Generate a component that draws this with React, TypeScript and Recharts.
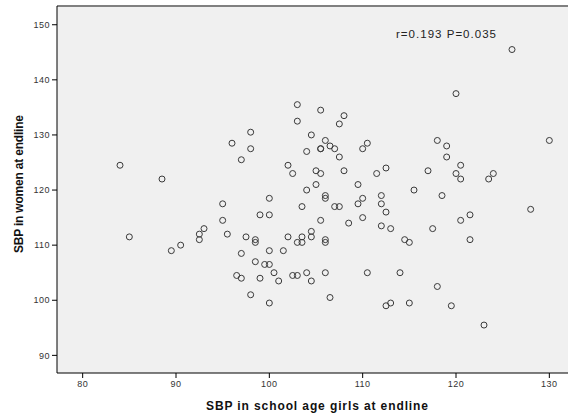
import React from "react";
import { ScatterChart, Scatter, XAxis, YAxis, CartesianGrid, ReferenceLine } from "recharts";

// SBP of school-age girls (x) against SBP of women (y), both at endline
const girlsSbp = [
  84, 88.5, 85, 89.5, 90.5, 92.5, 92.5, 93, 98, 104.5, 106, 96, 110.5, 106.5, 105.5, 105.5,
  107, 98, 110, 104, 107.5, 97, 102, 112.5, 105, 108, 102.5, 105.5, 111.5, 105, 109.5, 104,
  112, 106, 106, 100, 110, 95, 109.5, 112, 103.5, 107, 107.5, 112.5, 99, 100, 110, 95,
  105.5, 108.5, 112, 95.5, 104.5, 97.5, 102, 103.5, 104.5, 98.5, 98.5, 106, 106, 103,
  103.5, 100, 101.5, 97, 98.5, 99.5, 100, 118, 130, 119, 119, 120.5, 117, 120, 124,
  120.5, 123.5, 115.5, 118.5, 128, 121.5, 120.5, 113, 117.5, 114.5, 115, 121.5, 103,
  105.5, 108, 103, 107.5, 126, 120, 96.5, 97, 99, 100.5, 101, 102.5, 103, 104, 104.5,
  106, 110.5, 98, 100, 106.5, 112.5, 113, 114, 118, 115, 119.5, 123,
];
const womenSbp = [
  124.5, 122, 111.5, 109, 110, 112, 111, 113, 130.5, 130, 129, 128.5, 128.5, 128, 127.5, 127.5,
  127.5, 127.5, 127.5, 127, 126, 125.5, 124.5, 124, 123.5, 123.5, 123, 123, 123, 121, 121, 120,
  119, 119, 118.5, 118.5, 118.5, 117.5, 117.5, 117.5, 117, 117, 117, 116, 115.5, 115.5, 115, 114.5,
  114.5, 114, 113.5, 112, 112.5, 111.5, 111.5, 111.5, 111.5, 111, 110.5, 111, 110.5, 110.5,
  110.5, 109, 109, 108.5, 107, 106.5, 106.5, 129, 129, 128, 126, 124.5, 123.5, 123, 123,
  122, 122, 120, 119, 116.5, 115.5, 114.5, 113, 113, 111, 110.5, 111, 135.5,
  134.5, 133.5, 132.5, 132, 145.5, 137.5, 104.5, 104, 104, 105, 103.5, 104.5, 104.5, 105, 103.5,
  105, 105, 101, 99.5, 100.5, 99, 99.5, 105, 102.5, 99.5, 99, 95.5,
];
const xTicks = [80, 90, 100, 110, 120, 130];
const yTicks = [90, 100, 110, 120, 130, 140, 150];
const xDomain = [77.25, 132];
const yDomain = [86.8, 153.4];

const xTitle = "SBP in school age girls at endline";
const yTitle = "SBP in women at endline";
const statText = "r=0.193 P=0.035";

const points = girlsSbp.map((g, i) => ({ girls: g, women: womenSbp[i] }));

const font = "'Liberation Sans', Arial, sans-serif";
const tickStyle = { fontSize: 9, fill: "#333", fontFamily: font, letterSpacing: 0.5 };

const OpenCircle = (props: any) => (
  <circle cx={props.cx} cy={props.cy} r={3} fill="none" stroke="#3a3a3a" strokeWidth={1} />
);

export default function App() {
  return (
    <div style={{ position: "absolute", left: 0, top: 0, width: 569, height: 415, background: "#fff" }}>
      <ScatterChart width={569} height={415} margin={{ top: 6, right: 1, bottom: 0, left: 0 }}>
        <CartesianGrid fill="#f0f0f0" horizontal={false} vertical={false} />
        <XAxis
          type="number"
          dataKey="girls"
          domain={xDomain}
          ticks={xTicks}
          allowDataOverflow
          height={42}
          tickSize={5}
          tickMargin={3}
          stroke="#000"
          tickLine={{ stroke: "#000" }}
          axisLine={{ stroke: "#000" }}
          tick={tickStyle}
        />
        <YAxis
          type="number"
          dataKey="women"
          domain={yDomain}
          ticks={yTicks}
          allowDataOverflow
          width={57}
          tickSize={5}
          tickMargin={2}
          stroke="#000"
          tickLine={{ stroke: "#000" }}
          axisLine={{ stroke: "#000" }}
          tick={tickStyle}
        />
        <ReferenceLine y={yDomain[1]} stroke="#808080" strokeWidth={2} />
        <Scatter data={points} shape={OpenCircle} isAnimationActive={false} />
        <text
          x={317}
          y={410}
          textAnchor="middle"
          fontFamily={font}
          fontWeight="bold"
          fontSize={12}
          fill="#111"
          textLength={222}
          lengthAdjust="spacing"
        >
          {xTitle}
        </text>
        <text
          x={0}
          y={0}
          transform="translate(23,184) rotate(-90)"
          textAnchor="middle"
          fontFamily={font}
          fontWeight="bold"
          fontSize={12}
          fill="#111"
          textLength={138}
          lengthAdjust="spacing"
        >
          {yTitle}
        </text>
        <text
          x={396}
          y={38}
          fontFamily={font}
          fontSize={11.5}
          fill="#222"
          textLength={100}
          lengthAdjust="spacing"
        >
          {statText}
        </text>
      </ScatterChart>
    </div>
  );
}
